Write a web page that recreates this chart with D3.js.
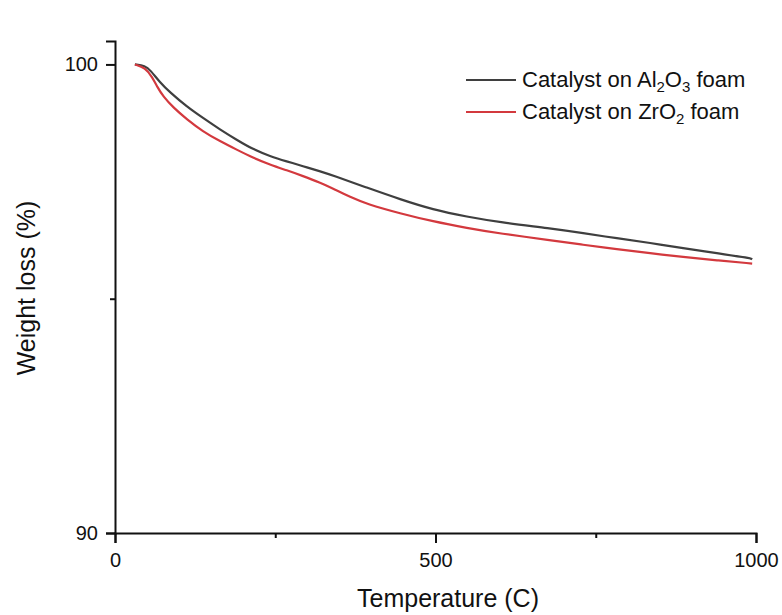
<!DOCTYPE html>
<html><head><meta charset="utf-8">
<script src="https://cdn.jsdelivr.net/npm/d3@7"></script>
<style>body{margin:0;background:#fff}svg{display:block}text{font-family:Arial,"Liberation Sans",sans-serif;fill:#111}</style>
</head><body><svg id="c" width="782" height="615"></svg>
<script>
const tempAl = [31,47,55,70,86,112,137,164,190,215,242,268,293,320,340,393,445,496,549,601,679,730,783,835,886,939,991,994];
const weightAl = [100.0,99.97,99.88,99.62,99.40,99.10,98.86,98.61,98.39,98.19,98.04,97.93,97.83,97.72,97.63,97.37,97.12,96.90,96.75,96.63,96.50,96.40,96.29,96.19,96.08,95.97,95.87,95.84];
const tempZr = [31,47,58,66,75,91,112,137,164,190,215,242,268,293,320,340,367,393,445,496,549,601,679,730,783,835,886,939,994];
const weightZr = [100.0,99.93,99.73,99.52,99.32,99.08,98.83,98.57,98.36,98.18,98.01,97.86,97.74,97.62,97.48,97.35,97.17,97.02,96.82,96.65,96.51,96.39,96.25,96.15,96.06,95.97,95.89,95.82,95.75];
const xTicks = [0,500,1000];
const xMinor = [250,750];
const yTicks = [90,100];
const yMinor = [95];
const seriesColors = ["#3f3f3f","#d3393e"];

const svg = d3.select("#c");
const L=115, R=756, T=41, B=533;
const x = d3.scaleLinear().domain([0,1000]).range([L,R]);
const y = d3.scaleLinear().domain([90,100.5]).range([B,T]);

const xa = svg.append("g").attr("transform",`translate(0,${B})`)
  .call(d3.axisBottom(x).tickValues(xTicks).tickSize(10).tickPadding(10).tickFormat(d3.format("d")));
const xm = svg.append("g").attr("transform",`translate(0,${B})`)
  .call(d3.axisBottom(x).tickValues(xMinor).tickSize(5).tickFormat(""));
const ya = svg.append("g").attr("transform",`translate(${L},0)`)
  .call(d3.axisLeft(y).tickValues(yTicks).tickSize(9).tickPadding(8).tickFormat(d3.format("d")));
const ym = svg.append("g").attr("transform",`translate(${L},0)`)
  .call(d3.axisLeft(y).tickValues(yMinor).tickSize(5).tickFormat(""));
[xa,xm,ya,ym].forEach(g=>{
  g.selectAll("path.domain").attr("stroke","#111").attr("stroke-width",2);
  g.selectAll(".tick line").attr("stroke","#111").attr("stroke-width",2);
  g.selectAll("text").attr("font-size",20).attr("font-family","Arial, 'Liberation Sans', sans-serif").attr("fill","#111");
});
xm.select("path.domain").remove(); ym.select("path.domain").remove();

const data = [d3.zip(tempAl,weightAl), d3.zip(tempZr,weightZr)];
const line = d3.line().x(d=>x(d[0])).y(d=>y(d[1])).curve(d3.curveBasis);
data.forEach((d,i)=>{
  svg.append("path").datum(d).attr("d",line).attr("fill","none")
    .attr("stroke",seriesColors[i]).attr("stroke-width",2.2);
});

const leg = [
  {y:80, parts:[["Catalyst on Al",0],["2",1],["O",0],["3",1],[" foam",0]]},
  {y:112, parts:[["Catalyst on ZrO",0],["2",1],[" foam",0]]}
];
leg.forEach((l,i)=>{
  svg.append("line").attr("x1",466).attr("x2",516).attr("y1",l.y).attr("y2",l.y)
    .attr("stroke",seriesColors[i]).attr("stroke-width",2.2);
  const t = svg.append("text").attr("x",522).attr("y",l.y+7).attr("font-size",22);
  let prevSub=false;
  l.parts.forEach(p=>{
    const ts=t.append("tspan").text(p[0]);
    if(p[1]){ts.attr("font-size",15).attr("dy",prevSub?0:5);prevSub=true;}
    else {ts.attr("dy",prevSub?-5:0);prevSub=false;}
  });
});

svg.append("text").attr("x",448).attr("y",607).attr("text-anchor","middle").attr("font-size",25).text("Temperature (C)");
svg.append("text").attr("transform","translate(35,288) rotate(-90)").attr("text-anchor","middle").attr("font-size",25).text("Weight loss (%)");
</script></body></html>
